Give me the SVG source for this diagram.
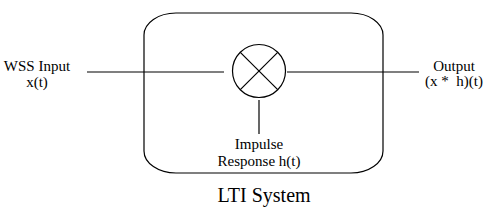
<svg xmlns="http://www.w3.org/2000/svg" width="492" height="219" viewBox="0 0 492 219">
<style>
.ln{stroke:#000;stroke-width:1.2;fill:none}
text{font-family:"Liberation Serif","Times New Roman",serif;fill:#000;text-anchor:middle}
.t{font-size:15px}
.big{font-size:20px}
</style>
<rect width="492" height="219" fill="#fff"/>
<g id="system">
<rect class="ln" x="144" y="13" width="239" height="160" rx="32" ry="22"/>
<text class="big" x="264" y="202">LTI System</text>
</g>
<g id="multiplier">
<circle class="ln" cx="259" cy="71" r="26.5"/>
<line class="ln" x1="240.3" y1="52.3" x2="277.7" y2="89.7"/>
<line class="ln" x1="277.7" y1="52.3" x2="240.3" y2="89.7"/>
</g>
<g id="input">
<text class="t" x="37" y="71">WSS Input</text>
<text class="t" x="37" y="87">x(t)</text>
</g>
<g id="output">
<text class="t" x="454" y="71">Output</text>
<text class="t" x="454" y="86" xml:space="preserve" style="white-space:pre">(x *  h)(t)</text>
</g>
<g id="impulse">
<text class="t" x="259" y="149">Impulse</text>
<text class="t" x="259" y="166">Response h(t)</text>
</g>
<g id="connectors">
<line class="ln" x1="87" y1="72" x2="224" y2="72"/>
<line class="ln" x1="287" y1="72" x2="419" y2="72"/>
<line class="ln" x1="259" y1="100" x2="259" y2="134"/>
</g>
</svg>
